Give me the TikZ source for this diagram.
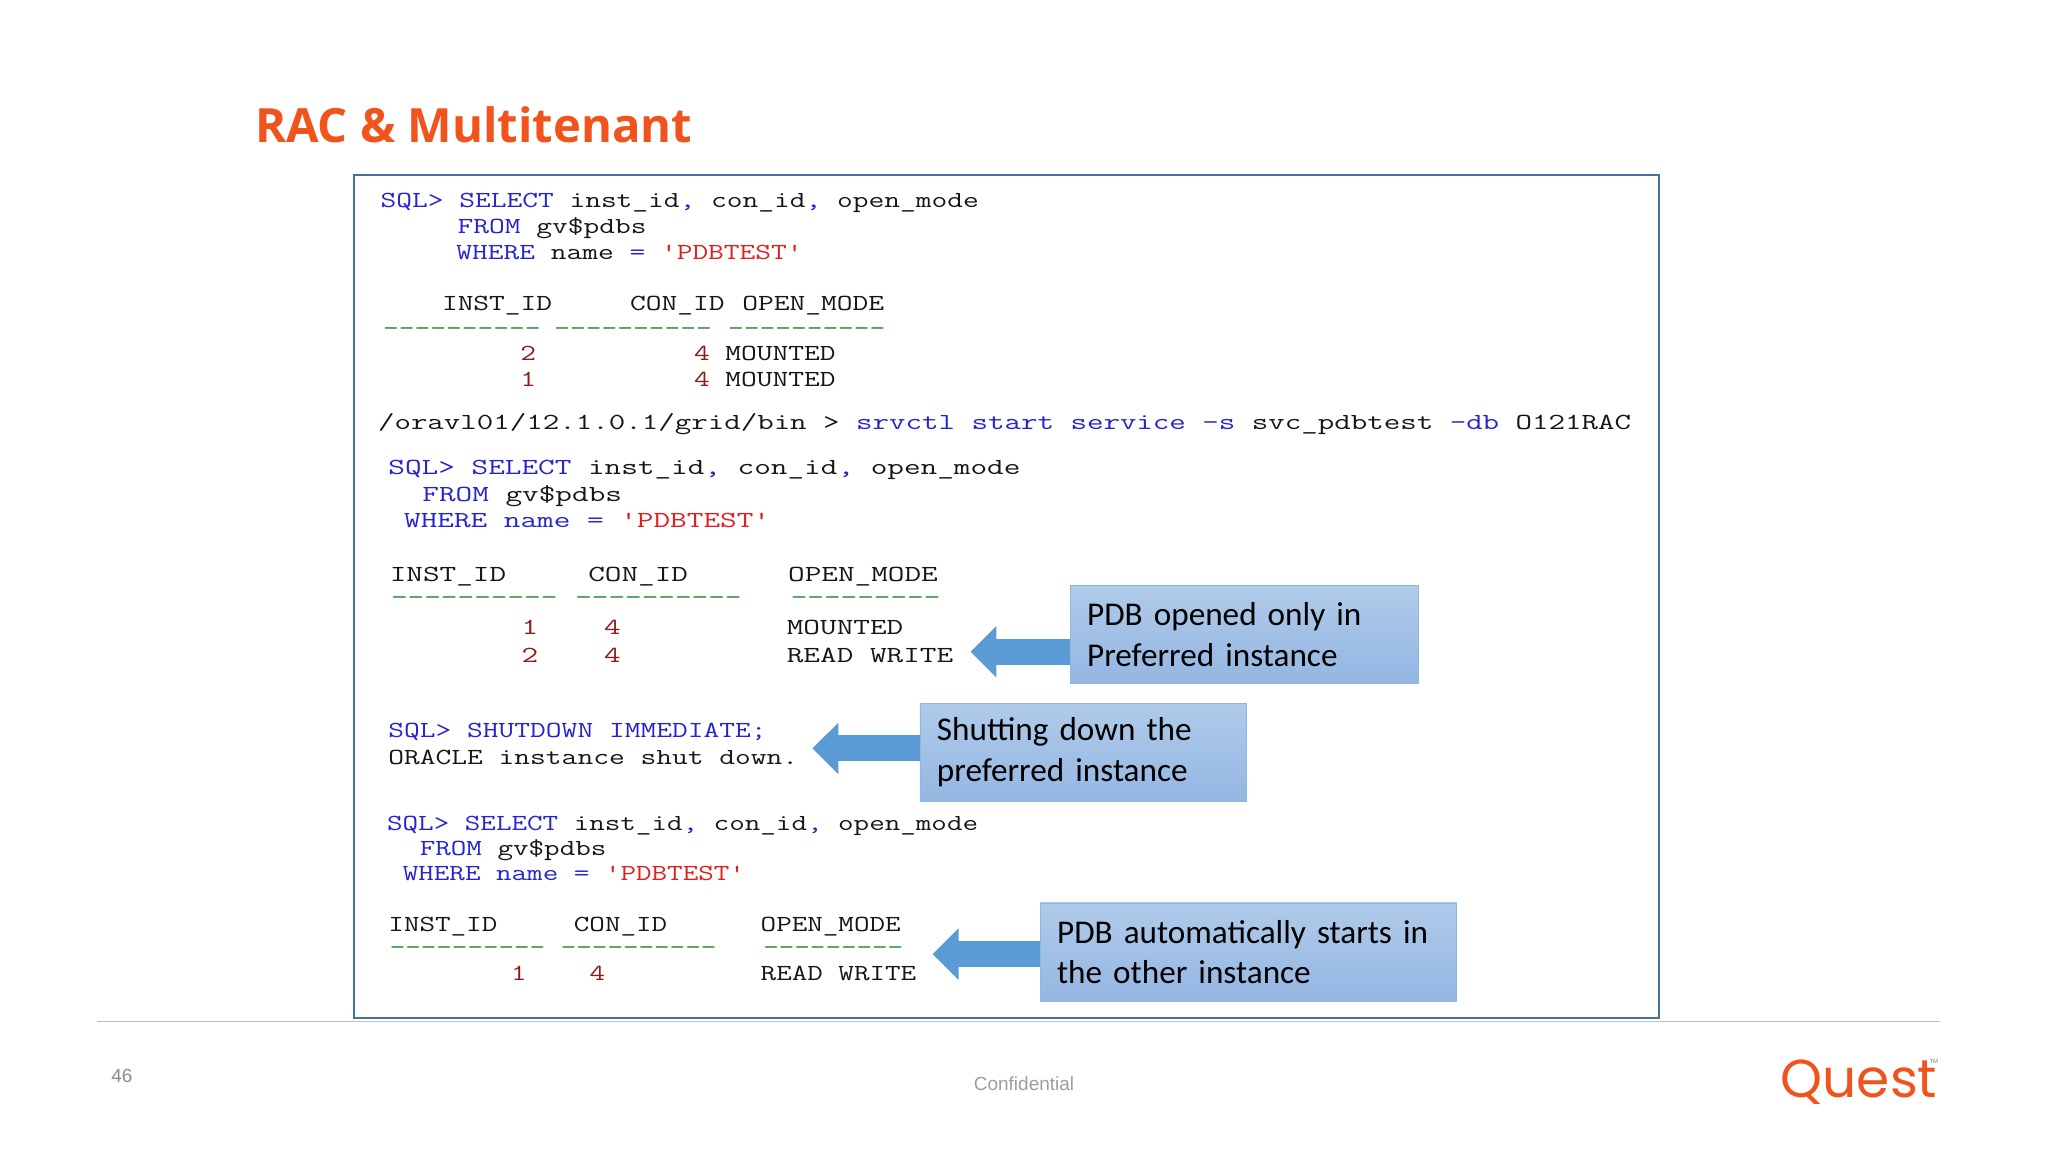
\documentclass[tikz,border=0pt]{standalone}
\usepackage{fontspec}
\setmainfont{Carlito}
\newfontfamily\titlefont{Open Sans}
\newfontfamily\footfont{Liberation Sans}
\newfontfamily\logofont{Poppins}
\usetikzlibrary{arrows.meta}
\definecolor{questorange}{HTML}{F0531C}
\definecolor{framecol}{HTML}{44719F}
\definecolor{kwcol}{HTML}{2424D0}
\definecolor{strcol}{HTML}{E0201C}
\definecolor{numcol}{HTML}{8C1C1C}
\definecolor{dashcol}{HTML}{2A8A36}
\definecolor{codecol}{HTML}{161616}
\definecolor{arrowcol}{HTML}{5B9BD5}
\definecolor{boxtop}{HTML}{B0CBEA}
\definecolor{boxbottom}{HTML}{94B6E2}
\newcommand{\kw}[1]{\textcolor{kwcol}{#1}}
\newcommand{\strg}[1]{\textcolor{strcol}{#1}}
\newcommand{\num}[1]{\textcolor{numcol}{#1}}
\newcommand{\dsh}[1]{\textcolor{dashcol}{#1}}
\tikzset{
  codeline/.style={font=\ttfamily\fontsize{11.5}{13}\selectfont, text=codecol, anchor=base west,
    inner sep=0, transform shape, xscale=#1},
  calloutbox/.style={draw=arrowcol!70!white, top color=boxtop, bottom color=boxbottom, anchor=north west,
    align=left, inner xsep=8.5pt, inner ysep=0, minimum height=49pt, font=\fontsize{16.6}{20.3}\selectfont},
  blockarrow/.style={draw=arrowcol, line width=13pt, -{Triangle[width=25pt,length=13pt]}},
}

\begin{document}
\begin{tikzpicture}[x=0.65306pt,y=-0.65306pt]
  \useasboundingbox (0,0) rectangle (1568,882);
  \fill[white] (0,0) rectangle (1568,882);

  \node[font=\titlefont\bfseries\fontsize{23.6}{28}\selectfont, text=questorange, anchor=base west, inner sep=0](title) at (195,109) {RAC \& Multitenant};
  \node[draw=framecol, line width=1pt, minimum width=652.7pt, minimum height=421.7pt, anchor=north west, inner sep=0](frame) at (270,133) {};

  % code lines
  \foreach \x/\y/\s/\t [count=\i] in {
    291/159/1.329/{\kw{SQL> SELECT} inst\_id\kw{,} con\_id\kw{,} open\_mode},
    350/179/1.329/{\kw{FROM} gv\$pdbs},
    349/199/1.329/{\kw{WHERE} name \kw{=} \strg{'PDBTEST'}},
    338/238/1.329/{INST\_ID},
    482/238/1.329/{CON\_ID},
    568/238/1.329/{OPEN\_MODE},
    293/257/1.329/{\dsh{----------}},
    424/257/1.329/{\dsh{----------}},
    557/257/1.329/{\dsh{----------}},
    398/276/1.329/{\num{2}},
    531/276/1.329/{\num{4}},
    555/276/1.329/{MOUNTED},
    398/296/1.329/{\num{1}},
    531/296/1.329/{\num{4}},
    555/296/1.329/{MOUNTED},
    289/329/1.392/{/oravl01/12.1.0.1/grid/bin > \kw{srvctl start service -s} svc\_pdbtest \kw{-db} O121RAC},
    297/363/1.404/{\kw{SQL> SELECT} inst\_id\kw{,} con\_id\kw{,} open\_mode},
    323/384/1.404/{\kw{FROM} gv\$pdbs},
    309/404/1.404/{\kw{WHERE name =} \strg{'PDBTEST'}},
    298/445/1.404/{INST\_ID},
    450/445/1.404/{CON\_ID},
    603/445/1.404/{OPEN\_MODE},
    299/463/1.404/{\dsh{----------}},
    440/463/1.404/{\dsh{----------}},
    605/463/1.404/{\dsh{---------}},
    399/486/1.404/{\num{1}},
    462/486/1.404/{\num{4}},
    602/486/1.404/{MOUNTED},
    399/507/1.404/{\num{2}},
    462/507/1.404/{\num{4}},
    602/507/1.404/{READ WRITE},
    297/565/1.33/{\kw{SQL> SHUTDOWN IMMEDIATE;}},
    297/585/1.33/{ORACLE instance shut down.},
    296/636/1.313/{\kw{SQL> SELECT} inst\_id\kw{,} con\_id\kw{,} open\_mode},
    321/655/1.313/{\kw{FROM} gv\$pdbs},
    308/674/1.313/{\kw{WHERE name =} \strg{'PDBTEST'}},
    297/713/1.313/{INST\_ID},
    439/713/1.313/{CON\_ID},
    582/713/1.313/{OPEN\_MODE},
    298/731/1.313/{\dsh{----------}},
    429/731/1.313/{\dsh{----------}},
    584/731/1.313/{\dsh{---------}},
    391/751/1.313/{\num{1}},
    451/751/1.313/{\num{4}},
    582/751/1.313/{READ WRITE}} {
    \node[codeline=\s](c\i) at (\x,\y) {\t};
  }

  % notes with their arrows
  \node[calloutbox, minimum width=174pt, text width=157pt](note1) at (819,448) {PDB opened only in\\Preferred instance};
  \node[calloutbox, minimum width=163pt, text width=146pt](note2) at (704,538) {Shutting down the\\preferred instance};
  \node[calloutbox, minimum width=208.3pt, text width=191.3pt](note3) at (796,691) {PDB automatically starts in\\the other instance};
  \coordinate (tip1) at (743,499);
  \coordinate (tip2) at (622,573);
  \coordinate (tip3) at (714,730.5);
  \foreach \n in {1, 2, 3} {
    \draw[blockarrow] (tip\n -| note\n.west) -- (tip\n);
  }

  % footer
  \coordinate (rulestart) at (74,782);
  \coordinate (ruleend) at (1485,782);
  \draw[black!25, line width=0.6pt] (rulestart) -- (ruleend);
  \node[font=\footfont\fontsize{9.5}{11}\selectfont, text=black!45, anchor=base west, inner sep=0](pageno) at (85,829) {46};
  \node[font=\footfont\fontsize{9.5}{11}\selectfont, text=black!38, anchor=base, inner sep=0](conf) at (784,835) {Confidential};
  \node[font=\logofont\fontsize{26.7}{30}\selectfont, text=questorange, anchor=base west, inner sep=0](logo) at (1363,840) {Quest};
  \node[font=\footfont\fontsize{3}{4}\selectfont, text=black!50, anchor=base west, inner sep=0](tm) at (1477,814) {TM};
\end{tikzpicture}
\end{document}
